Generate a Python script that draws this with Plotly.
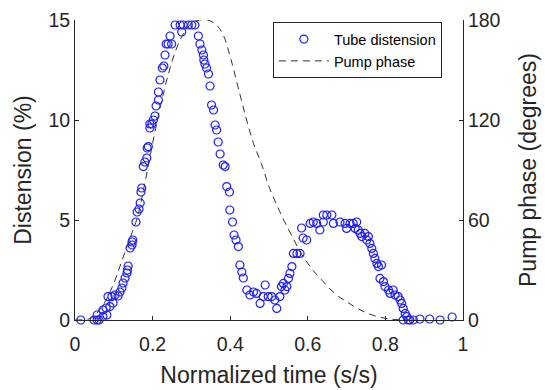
import plotly.graph_objects as go

# Tube distension samples (normalized time, distension %)
tube_t = [0.015, 0.049, 0.057, 0.062, 0.057, 0.072, 0.082, 0.072, 0.080, 0.090,
          0.098, 0.085, 0.095, 0.103, 0.111, 0.116, 0.121, 0.124, 0.129, 0.134,
          0.135, 0.137, 0.142, 0.147, 0.149, 0.147, 0.157, 0.160, 0.165, 0.168,
          0.170, 0.172, 0.176, 0.180, 0.185, 0.186, 0.189, 0.193, 0.193, 0.198,
          0.202, 0.206, 0.209, 0.215, 0.215, 0.219, 0.225, 0.229, 0.232, 0.235,
          0.240, 0.245, 0.249, 0.258, 0.262, 0.271, 0.275, 0.279, 0.288, 0.292,
          0.301, 0.309,
          0.318, 0.322, 0.327, 0.331, 0.332, 0.335, 0.339, 0.344, 0.348, 0.352,
          0.357, 0.361, 0.365, 0.369, 0.374, 0.382, 0.387, 0.391, 0.398, 0.399,
          0.406, 0.410, 0.415, 0.421, 0.425, 0.430, 0.434,
          0.443, 0.451, 0.460, 0.468, 0.477, 0.485, 0.490, 0.498, 0.507, 0.515,
          0.520, 0.528, 0.532, 0.537, 0.541, 0.546, 0.550, 0.554, 0.559, 0.563,
          0.572, 0.580, 0.584, 0.588, 0.597, 0.606, 0.614, 0.623, 0.631, 0.640,
          0.640, 0.649, 0.662, 0.666, 0.683, 0.696, 0.700, 0.709, 0.717, 0.722,
          0.726, 0.730, 0.735, 0.739, 0.747, 0.752, 0.756, 0.760, 0.765, 0.769,
          0.773, 0.778, 0.782, 0.786, 0.790, 0.795, 0.799, 0.808, 0.812, 0.820,
          0.825, 0.833, 0.838, 0.842, 0.846, 0.851, 0.855, 0.846, 0.859, 0.863,
          0.872, 0.889, 0.914, 0.941, 0.972]
tube_d = [0.0, 0.0, 0.0, 0.0, 0.25, 0.17, 0.25, 0.5, 0.6, 0.67,
          0.85, 1.17, 1.17, 1.25, 1.2, 1.4, 1.6, 1.85, 2.1, 2.35,
          2.5, 2.7, 3.6, 3.9, 4.0, 3.75, 4.9, 5.4, 5.55, 5.85,
          6.4, 6.6, 7.67, 7.9, 8.1, 8.6, 8.67, 9.6, 9.8, 9.8,
          10.0, 10.2, 10.7, 11.0, 11.4, 12.0, 12.6, 12.7, 13.25, 13.8,
          13.8, 14.2, 13.8, 14.75, 15.1, 14.75, 14.4, 14.75, 15.1, 14.75,
          14.75, 14.75,
          14.2, 13.8, 13.5, 13.25, 13.0, 12.8, 12.6, 12.3, 11.7, 10.75,
          10.5, 9.75, 9.5, 8.9, 8.3, 7.75, 7.67, 6.67, 6.4, 5.5,
          4.9, 4.25, 4.0, 3.67, 2.75, 2.4, 2.1,
          1.5, 1.25, 1.4, 1.33, 0.83, 1.17, 1.75, 1.17, 1.17, 1.0,
          0.58, 1.17, 1.67, 1.83, 1.5, 1.67, 2.08, 2.33, 2.67, 3.33,
          3.33, 3.33, 4.6, 4.1, 4.0, 4.83, 4.9, 4.83, 4.5, 5.25,
          4.9, 5.25, 5.25, 4.83, 4.9, 4.83, 4.58, 4.83, 4.83, 4.58,
          4.9, 4.5, 4.33, 4.17, 4.33, 4.0, 4.17, 3.83, 3.58, 3.33,
          3.08, 2.83, 2.67, 2.08, 2.75, 1.92, 1.67, 1.5, 1.33, 1.5,
          1.25, 1.17, 1.0, 0.83, 0.58, 0.33, 0.17, 0.0, 0.0, 0.0,
          0.0, 0.05, 0.05, 0.0, 0.15]

# Pump phase (normalized time, degrees)
pump_t = [0.0, 0.04, 0.06, 0.08, 0.10, 0.12, 0.14, 0.16, 0.18, 0.20,
          0.22, 0.24, 0.26, 0.28, 0.30, 0.32, 0.34, 0.36, 0.38, 0.40,
          0.42, 0.44, 0.46, 0.48, 0.50, 0.52, 0.54, 0.56, 0.58, 0.60,
          0.62, 0.64, 0.66, 0.68, 0.70, 0.72, 0.74, 0.76, 0.78, 0.80,
          0.82, 0.84, 0.86]
pump_deg = [0, 1, 5, 12, 22, 35, 48, 61, 82, 106,
            128, 147, 162, 172, 178, 180, 180, 178, 172, 158,
            140, 122, 106, 94, 80, 69, 59, 50, 41, 34,
            28, 23, 18, 14, 11, 8, 5.5, 3.5, 2, 1,
            0.4, 0.1, 0]

x_ticks = [0, 0.2, 0.4, 0.6, 0.8, 1]
x_tick_text = ["0", "0.2", "0.4", "0.6", "0.8", "1"]
left_ticks = [0, 5, 10, 15]
right_ticks = [0, 60, 120, 180]

FONT = "Liberation Sans, Arial, sans-serif"
INK = "#262626"

fig = go.Figure()
fig.add_trace(go.Scatter(
    x=tube_t, y=tube_d, mode="markers", name="Tube distension",
    marker=dict(symbol="circle-open", size=8, color="rgb(30,30,255)",
                line=dict(width=1.2, color="rgb(30,30,255)")),
    cliponaxis=False,
))
fig.add_trace(go.Scatter(
    x=pump_t, y=pump_deg, mode="lines", name="Pump phase", yaxis="y2",
    line=dict(color="#333333", width=1, dash="7px,5px", shape="spline"),
))

axis_common = dict(
    showgrid=False, zeroline=False, showline=True, linecolor=INK, linewidth=1,
    ticks="inside", ticklen=4, tickcolor=INK, automargin=False,
    tickfont=dict(family=FONT, size=19.5, color=INK),
    title_font=dict(family=FONT, size=23, color=INK),
)

fig.update_layout(
    width=545, height=390,
    margin=dict(l=75, r=82, t=20, b=70),
    paper_bgcolor="white", plot_bgcolor="white",
    showlegend=True,
    legend=dict(
        x=0.51, y=0.993, xanchor="left", yanchor="top",
        bordercolor=INK, borderwidth=1, bgcolor="white",
        font=dict(family=FONT, size=14.5, color="#000000"),
        itemwidth=50, tracegroupgap=0,
    ),
    xaxis=dict(range=[0, 1], tickvals=x_ticks, ticktext=x_tick_text,
               ticklabelstandoff=7,
               title=dict(text="Normalized time (s/s)", standoff=12), **axis_common),
    yaxis=dict(range=[0, 15], tickvals=left_ticks,
               title=dict(text="Distension (%)", standoff=10), **axis_common),
    yaxis2=dict(range=[0, 180], tickvals=right_ticks, overlaying="y", side="right",
                title=dict(text="Pump phase (degrees)", standoff=20), **axis_common),
)

fig.write_html("out.html", config={"displayModeBar": False},
               post_script="document.body.style.margin='0';")
